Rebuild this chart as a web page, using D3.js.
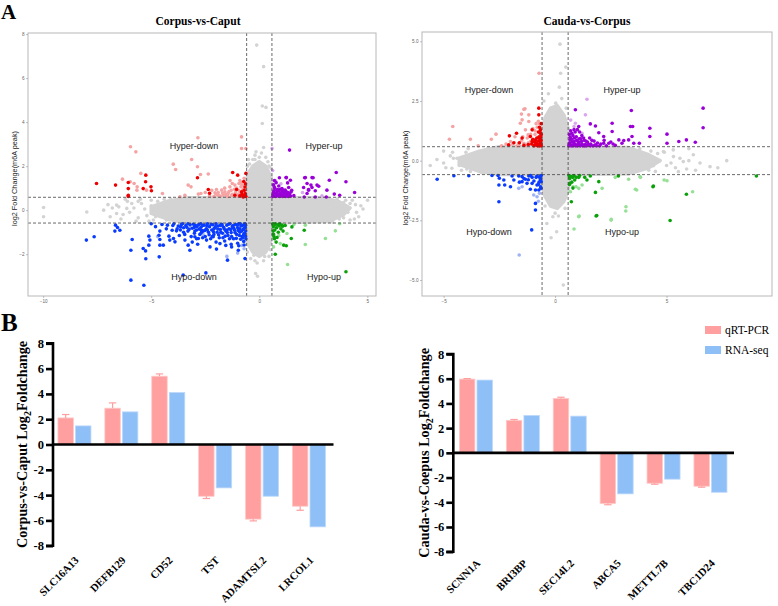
<!DOCTYPE html>
<html><head><meta charset="utf-8">
<script src="https://cdn.jsdelivr.net/npm/d3@7"></script>
<style>body{margin:0;background:#fff}</style></head>
<body><svg id="c" width="778" height="606"></svg>
<script>
// ---------------- DATA ----------------
const threshold = 0.585;
// Corpus-vs-Caput (left scatter)
const lTicksX = [-10, -5, 0, 5];
const lTicksY = [-2, 0, 2, 4, 6, 8];
const lCloud = [[-5.0,0.15],[-4.2,0.42],[-3.3,0.56],[-0.62,0.58],[-0.62,1.2],[-0.5,1.7],[-0.3,2.0],[0,2.2],[0.3,2.0],[0.5,1.6],[0.6,1.2],[0.6,0.58],[3.0,0.56],[3.7,0.38],[4.2,0.1],[3.9,-0.2],[3.2,-0.52],[0.6,-0.58],[0.6,-1.0],[0.5,-1.5],[0.3,-1.9],[0,-2.1],[-0.3,-1.9],[-0.55,-1.5],[-0.62,-1.0],[-0.62,-0.58],[-3.3,-0.56],[-4.2,-0.42],[-5.0,-0.15]];
const lGray = [[-0.12,7.5],[0.2,6.52],[0.14,4.73],[0.31,4.67],[0.14,3.94],[-0.15,2.65],[0.2,2.85],[-0.2,2.3],[-9.98,0.12],[-9.98,-0.3],[-7.98,-0.08],[-6.6,0.23],[-6.13,0.08],[5.01,0.45],[3.29,0.38],[3.62,0.2],[3.75,-0.15],[-0.17,-2.88],[-0.08,-3.0],[0.2,-1.97],[-0.2,-2.3],[-6.8,0.1],[-6.3,-0.2],[-5.9,0.3],[-5.6,-0.35],[-5.3,0.05],[-5.0,0.45],[-4.8,-0.3],[-4.6,0.2],[-4.3,-0.45],[-4.1,0.5],[-3.9,-0.1],[-3.7,0.55],[-6.1,0.4],[-5.5,0.5],[-5.1,-0.5],[-4.0,0.35],[-3.8,-0.5],[3.6,0.5],[3.9,-0.35],[4.2,0.3],[4.5,-0.1],[4.7,0.2],[3.4,-0.55],[4.0,0.45],[4.4,-0.4],[3.2,0.55],[-0.5,2.3],[0.4,2.2],[-0.2,2.5],[0.1,2.6],[0.3,2.4],[-0.4,-2.2],[0.45,-2.1],[-0.1,-2.4],[0.2,-2.3],[0.5,-1.8],[-0.55,-1.9],[0.55,1.9],[-0.55,2.0],[-7.2,0.0],[-7.0,0.25],[-6.9,-0.3],[-6.5,0.15],[-6.4,-0.4],[-6.2,0.5],[-6.0,-0.1],[-5.8,0.1],[-5.7,-0.5],[-5.45,0.3],[-5.2,-0.25],[-5.0,0.2],[-4.9,-0.45],[-4.7,0.4],[-4.55,-0.1],[-4.4,0.5],[-4.2,0.15],[-4.0,-0.3],[-3.8,0.2],[-3.6,-0.35],[-3.6,0.45],[-4.75,0.05],[-5.6,0.4],[-6.6,-0.15],[3.1,-0.5],[3.3,0.4],[3.5,0.1],[3.7,-0.4],[3.9,0.35],[4.1,-0.1],[4.3,0.45],[4.6,-0.3],[4.8,0.05],[3.8,-0.05],[4.2,-0.45],[4.45,0.25],[-0.55,1.4],[0.55,1.5],[-0.45,2.1],[0.45,2.0],[0.0,2.4],[-0.3,2.3],[0.25,-2.1],[-0.25,-2.05],[0.52,-1.4],[-0.58,-1.3]];
const lRed = [[-7.53,1.21],[-6.65,1.14],[-6.06,1.26],[-6.06,0.98],[-6.06,0.68],[-6.06,0.62],[-5.25,1.59],[-5.26,1.29],[-5.37,0.98],[-5.01,1.06],[-4.99,0.88],[-2.86,1.47],[-2.36,0.94],[-2.3,0.77],[-1.23,1.71],[-1.0,1.59],[-0.62,1.67],[-1.05,0.94],[-0.82,0.83],[-0.66,0.68],[-0.74,0.6],[-1.13,0.68],[-0.62,0.62],[-0.65,0.75],[-0.68,0.66],[-0.7,0.9],[-0.75,0.62],[-0.8,0.72],[-0.66,1.05],[-0.64,1.2],[-0.9,0.65],[-0.72,1.3]];
const lRedLight = [[-5.96,2.88],[-5.71,2.65],[-3.98,2.09],[-3.13,2.3],[-3.87,1.85],[-2.86,1.97],[-2.72,1.62],[-2.36,1.64],[-5.48,1.67],[-6.33,1.41],[-5.79,1.21],[-5.65,1.06],[-5.22,0.91],[-4.48,0.76],[-3.29,1.14],[-3.16,1.06],[-2.82,0.73],[-2.7,0.76],[-2.05,0.79],[-1.98,0.94],[-1.74,0.91],[-1.59,0.83],[-1.44,0.76],[-1.36,1.06],[-1.25,1.21],[-1.13,1.14],[-0.94,1.21],[-0.85,1.06],[-1.44,0.61],[-1.28,0.68],[-1.67,0.68],[-1.9,0.68],[-3.67,0.61],[-3.44,0.68],[-0.82,3.33],[-0.62,2.8],[-0.82,2.8],[-2.84,3.29],[-5.97,1.29],[-5.66,0.91],[-0.85,0.62],[-1.0,0.7],[-1.1,0.8],[-1.2,0.65],[-0.95,0.9],[-1.3,0.9],[-1.5,0.65],[-1.6,1.0],[-1.9,0.8],[-2.1,0.62],[-2.2,0.9],[-0.8,1.15],[-0.9,1.35],[-1.05,1.0],[-0.7,1.45],[-0.7,0.75],[-0.75,0.95],[-0.8,0.65],[-0.9,0.78],[-1.0,0.62],[-1.15,0.95],[-1.25,0.72],[-1.4,0.85],[-1.55,0.72],[-1.7,0.78],[-1.8,0.64],[-2.0,0.72],[-2.3,0.66],[-2.5,0.8],[-0.65,0.9],[-0.68,1.1],[-0.85,1.25],[-1.35,1.35]];
const lPurple = [[1.4,2.73],[0.93,1.47],[1.25,1.48],[1.44,1.36],[1.31,1.24],[0.69,1.06],[0.85,0.94],[1.05,0.98],[1.2,0.91],[1.36,1.03],[0.97,0.76],[1.13,0.68],[0.69,0.68],[0.82,0.79],[1.28,0.79],[1.47,0.83],[2.13,1.48],[2.44,1.48],[2.21,1.21],[2.05,1.03],[2.28,0.94],[2.44,1.03],[2.59,0.88],[2.21,0.76],[2.67,1.14],[3.13,0.91],[3.24,1.36],[3.56,1.71],[4.01,1.29],[4.41,0.8],[3.47,0.73],[3.72,0.68],[2.75,1.09],[2.49,1.47],[2.1,1.47],[2.39,1.14],[2.28,0.91],[2.08,0.6],[2.59,0.6],[3.1,0.6],[1.24,1.48],[0.62,0.62],[0.65,0.8],[0.7,0.68],[0.72,1.0],[0.75,0.62],[0.8,0.75],[0.85,0.66],[0.9,0.88],[0.95,0.62],[1.0,0.7],[1.05,0.85],[1.1,0.65],[1.15,0.78],[1.2,0.62],[1.3,0.7],[1.35,0.62],[1.4,0.74],[0.66,1.15],[0.78,1.25],[0.9,1.1],[0.64,0.72],[0.68,0.88],[0.74,0.78],[0.78,0.64],[0.82,0.9],[0.88,0.72],[0.92,0.64],[0.98,0.95],[1.02,0.78],[1.08,0.62],[1.12,0.9],[1.18,0.7],[1.24,0.85],[1.28,0.64],[1.33,0.8],[1.38,0.68],[1.45,0.64],[1.5,0.9],[1.6,0.66],[0.7,1.35]];
const lPurpleLight = [[0.59,2.8],[0.62,1.8],[0.75,1.35],[1.0,1.2],[0.65,0.9],[2.0,0.8],[2.9,0.65]];
const lBlue = [[-8.0,-1.36],[-7.64,-1.21],[-6.65,-0.68],[-6.56,-0.79],[-6.45,-0.91],[-6.68,-0.95],[-5.88,-1.33],[-5.94,-1.82],[-5.37,-1.74],[-5.26,-1.85],[-5.25,-2.21],[-5.11,-1.18],[-5.06,-1.36],[-5.11,-1.59],[-4.64,-1.14],[-4.6,-1.33],[-4.6,-1.59],[-4.44,-1.59],[-4.63,-2.12],[-4.18,-1.18],[-4.14,-1.36],[-4.03,-0.91],[-3.97,-1.29],[-3.9,-1.44],[-4.25,-0.68],[-3.83,-0.94],[-3.64,-0.76],[-3.44,-1.36],[-3.29,-1.59],[-3.21,-1.82],[-2.98,-1.21],[-2.82,-1.29],[-2.67,-0.91],[-2.44,-1.36],[-2.28,-1.67],[-2.13,-1.21],[-1.98,-1.77],[-1.82,-1.52],[-1.47,-2.27],[-1.28,-1.67],[-0.97,-1.82],[-0.66,-2.2],[-5.94,-3.18],[-5.34,-3.41],[-3.52,-2.95],[-2.47,-2.85],[-3.6,-0.65],[-3.5,-0.8],[-3.4,-0.7],[-3.3,-0.95],[-3.2,-0.66],[-3.1,-0.82],[-3.0,-1.05],[-2.95,-0.7],[-2.9,-0.9],[-2.8,-0.65],[-2.75,-1.1],[-2.7,-0.78],[-2.6,-0.95],[-2.55,-0.68],[-2.5,-1.2],[-2.45,-0.85],[-2.4,-0.62],[-2.35,-1.0],[-2.3,-0.75],[-2.25,-1.3],[-2.2,-0.9],[-2.15,-0.66],[-2.1,-1.1],[-2.05,-0.8],[-2.0,-0.62],[-1.95,-1.0],[-1.9,-0.72],[-1.85,-1.25],[-1.8,-0.88],[-1.75,-0.64],[-1.7,-1.05],[-1.65,-0.78],[-1.6,-1.4],[-1.55,-0.95],[-1.5,-0.68],[-1.45,-1.15],[-1.4,-0.85],[-1.35,-0.62],[-1.3,-1.02],[-1.25,-0.75],[-1.2,-1.3],[-1.15,-0.9],[-1.1,-0.65],[-1.05,-1.1],[-1.0,-0.8],[-0.95,-0.62],[-0.9,-1.0],[-0.85,-0.72],[-0.8,-1.2],[-0.75,-0.88],[-0.7,-0.64],[-0.68,-1.05],[-0.65,-0.78],[-0.63,-0.95],[-0.62,-1.3],[-0.66,-0.62],[-0.9,-0.85],[-1.2,-0.7],[-1.5,-0.9],[-1.8,-0.7],[-2.1,-0.85],[-2.4,-0.9],[-2.7,-0.62],[-3.0,-0.78],[-3.3,-0.62],[-0.72,-1.42],[-1.0,-1.5],[-1.3,-1.55],[-2.9,-1.3],[-3.5,-1.0],[-4.0,-0.7],[-4.5,-0.65],[-4.8,-0.75],[-5.0,-0.62],[-3.8,-0.85],[-3.75,-0.72],[-3.65,-0.9],[-3.55,-0.62],[-3.45,-1.1],[-3.35,-0.78],[-3.25,-0.88],[-3.15,-1.2],[-3.05,-0.64],[-2.98,-0.95],[-2.88,-0.74],[-2.78,-0.86],[-2.68,-1.02],[-2.62,-0.7],[-2.52,-0.92],[-2.42,-0.72],[-2.32,-1.12],[-2.22,-0.64],[-2.12,-0.98],[-2.02,-0.74],[-1.92,-0.86],[-1.88,-1.12],[-1.78,-1.0],[-1.72,-0.68],[-1.62,-0.86],[-1.58,-1.18],[-1.48,-1.02],[-1.42,-0.64],[-1.32,-0.88],[-1.28,-1.2],[-1.18,-0.82],[-1.12,-1.02],[-1.02,-0.68],[-0.98,-0.92],[-0.92,-1.15],[-0.88,-0.62],[-0.82,-0.96],[-0.78,-0.7],[-0.72,-1.1],[-0.7,-0.82],[-0.64,-0.68],[-0.64,-1.18],[-0.76,-1.25],[-0.86,-1.32],[-1.06,-1.28],[-1.38,-1.3],[-1.68,-1.25],[-2.18,-1.2],[-2.62,-1.25],[-3.1,-1.45],[-3.7,-1.15],[-4.3,-0.85],[-4.6,-0.95],[-3.95,-0.62],[-2.85,-1.55],[-2.0,-1.45],[-1.55,-1.6],[-0.95,-1.62],[-0.7,-1.58]];
const lBlueLight = [[-1.5,-2.1],[-1.0,-1.95],[-0.8,-1.6],[-3.2,-0.8],[-4.7,-1.2],[-0.7,-1.75],[-1.15,-1.3],[-2.6,-1.1]];
const lGreen = [[1.48,-1.29],[1.13,-1.59],[1.25,-1.62],[2.08,-0.91],[0.74,-2.0],[4.01,-2.8],[1.08,-0.73],[1.51,-0.76],[0.82,-1.24],[0.62,-0.62],[0.65,-0.75],[0.7,-0.68],[0.72,-0.9],[0.75,-0.62],[0.8,-0.8],[0.85,-0.66],[0.88,-1.0],[0.92,-0.72],[0.95,-0.62],[1.0,-0.85],[0.66,-1.1],[0.7,-1.3],[0.78,-1.45],[1.05,-0.68],[1.1,-0.95],[1.2,-0.7],[0.64,-0.95],[0.68,-1.2]];
const lGreenLight = [[2.13,-0.68],[3.06,-1.29],[3.52,-0.94],[3.72,-0.62],[2.13,-1.56],[1.31,-2.47],[0.97,-1.52],[0.66,-1.67],[1.28,-1.06],[1.6,-0.65],[0.9,-1.15]];

// Cauda-vs-Corpus (right scatter)
const rTicksX = [-5, 0, 5];
const rTicksY = [-5, -2.5, 0, 2.5, 5];
const rCloud = [[-4.3,0.1],[-3.4,0.4],[-2.5,0.58],[-0.6,0.58],[-0.6,1.2],[-0.45,1.8],[-0.2,2.2],[0.1,2.3],[0.4,1.9],[0.6,1.3],[0.6,0.58],[3.3,0.55],[4.2,0.25],[4.7,0],[4.2,-0.3],[3.3,-0.55],[0.6,-0.58],[0.6,-1.2],[0.4,-1.7],[0.1,-2.0],[-0.2,-1.9],[-0.45,-1.5],[-0.6,-1.0],[-0.6,-0.58],[-2.5,-0.58],[-3.4,-0.45],[-4.3,-0.15]];
const rGray = [[0.22,4.88],[0.25,3.66],[0.48,3.92],[0.19,3.08],[0.03,2.41],[0.37,-5.21],[-0.18,-3.23],[0.07,-2.98],[-0.37,-2.63],[-0.1,-2.35],[0.15,-2.32],[6.95,-0.25],[5.75,-0.04],[5.31,0.17],[4.41,-0.21],[4.86,0.38],[5.53,-0.46],[-4.56,0.1],[-4.63,-0.32],[-3.96,0.2],[-3.96,-0.35],[-3.44,0.31],[-5.3,0.05],[-4.9,-0.3],[-4.6,0.35],[-4.2,-0.4],[-3.9,0.5],[-3.7,-0.1],[-5.0,0.4],[-4.4,0.1],[-3.3,-0.5],[-3.0,0.55],[3.8,0.5],[4.2,-0.4],[4.6,0.3],[5.0,-0.2],[5.3,0.45],[5.6,0.1],[5.9,-0.35],[6.2,0.25],[6.5,-0.1],[7.3,-0.3],[7.7,0.0],[4.0,0.1],[4.4,-0.1],[3.5,-0.5],[-0.5,2.5],[0.3,2.6],[-0.3,2.8],[0.5,2.2],[-0.45,-1.9],[0.45,-2.0],[0.0,-2.2],[-5.6,-0.2],[6.0,0.5],[-5.0,-0.1],[-4.7,0.2],[-4.3,-0.2],[-4.0,0.35],[-3.8,-0.45],[-3.5,0.2],[-3.2,-0.3],[-2.8,0.52],[-2.9,-0.5],[3.2,0.5],[3.6,0.3],[3.9,-0.3],[4.3,0.4],[4.7,0.0],[5.2,-0.1],[4.9,0.35],[4.5,-0.45],[5.4,-0.3],[6.0,0.0],[6.3,-0.4]];
const rRed = [[-0.73,2.2],[-0.73,1.92],[-1.73,1.15],[-2.05,1.04],[-1.48,0.95],[-1.11,1.01],[-1.03,0.8],[-0.88,0.87],[-0.73,0.95],[-0.66,0.73],[-0.81,0.66],[-0.66,1.15],[-1.03,1.29],[-2.08,0.66],[-1.85,0.75],[-0.62,0.62],[-0.65,0.8],[-0.7,0.68],[-0.72,1.0],[-0.78,0.62],[-0.85,0.75],[-0.62,1.1],[-0.66,1.3],[-0.9,0.66],[-1.0,0.9],[-0.75,1.2],[-0.95,0.62],[-1.2,0.68],[-1.4,0.64],[-1.6,0.75],[-0.63,0.7],[-0.67,0.92],[-0.7,0.62],[-0.74,0.82],[-0.8,0.7],[-0.64,1.0],[-0.68,1.2],[-0.82,0.95],[-0.92,0.78],[-1.05,0.7],[-0.63,0.85],[-0.7,1.4],[-0.62,1.55]];
const rRedLight = [[-4.59,1.43],[-4.74,0.9],[-3.8,0.9],[-3.45,0.62],[-2.86,0.9],[-2.65,1.11],[-1.51,1.95],[-1.4,2.15],[-1.18,1.92],[-1.56,1.57],[-1.48,1.71],[-1.18,1.64],[-1.33,1.29],[-1.21,1.08],[-1.63,0.73],[-1.4,0.73],[-2.0,0.8],[-0.72,3.66],[-1.35,2.17],[-0.8,1.4],[-0.9,1.1],[-1.1,0.8],[-1.25,0.95],[-1.3,0.62],[-1.5,0.85],[-1.7,0.62],[-1.8,1.0],[-2.2,0.7],[-2.4,0.62],[-0.7,1.55],[-1.0,1.35],[-0.9,1.25],[-1.1,1.1],[-1.2,0.75],[-1.35,0.68],[-1.45,1.0],[-1.6,0.62],[-1.9,0.7],[-0.75,1.65],[-0.85,1.55]];
const rPurple = [[6.64,2.2],[6.64,1.38],[3.42,2.1],[5.02,1.11],[5.55,0.8],[5.89,0.87],[6.29,0.77],[5.02,0.73],[4.25,1.36],[4.25,1.01],[3.38,1.43],[3.48,1.43],[2.56,1.57],[2.56,1.22],[1.58,1.54],[1.81,1.45],[1.96,1.17],[2.18,1.01],[2.18,0.73],[2.41,0.73],[2.6,0.7],[2.86,0.87],[3.08,0.84],[3.3,0.87],[3.45,1.01],[3.53,0.73],[3.78,0.73],[3.0,0.73],[0.91,2.13],[1.06,1.43],[0.62,0.62],[0.66,0.75],[0.7,0.66],[0.75,0.9],[0.8,0.62],[0.85,0.8],[0.9,0.7],[0.95,1.0],[1.0,0.62],[1.05,0.78],[1.1,0.66],[1.15,0.92],[1.2,0.7],[1.25,0.62],[1.3,0.85],[1.35,0.68],[1.4,0.62],[1.45,0.78],[1.5,0.66],[1.55,0.95],[1.6,0.7],[1.7,0.62],[1.75,0.82],[1.8,0.66],[1.9,0.74],[2.0,0.62],[0.64,1.1],[0.7,1.25],[0.8,1.05],[0.9,1.2],[1.0,1.3],[0.68,0.98],[1.2,1.05],[2.2,0.85],[2.3,0.62],[2.5,0.78],[2.7,0.64],[0.63,0.7],[0.67,0.88],[0.72,0.62],[0.77,0.78],[0.83,0.68],[0.87,0.95],[0.93,0.62],[0.97,0.85],[1.03,0.7],[1.08,0.92],[1.13,0.62],[1.18,0.8],[1.23,0.66],[1.28,0.95],[1.33,0.62],[1.38,0.82],[1.48,0.7],[1.58,0.62],[1.65,0.85],[1.85,0.62],[0.75,1.15],[0.85,1.3],[1.1,1.2],[2.05,0.7]];
const rPurpleLight = [[1.36,1.92],[1.43,2.57],[1.21,1.15],[0.91,1.57],[0.85,1.43],[0.7,1.7],[1.1,0.9]];
const rBlue = [[-5.29,-0.78],[-4.54,-0.63],[-3.87,-0.63],[-2.83,-0.62],[-2.56,-0.62],[-2.5,-0.74],[-2.3,-0.81],[-2.52,-1.02],[-2.26,-1.02],[-1.93,-0.64],[-1.85,-0.81],[-2.0,-1.09],[-1.63,-0.64],[-1.48,-0.67],[-1.33,-0.78],[-1.18,-0.64],[-1.03,-0.7],[-0.81,-0.64],[-0.66,-0.74],[-0.62,-0.88],[-1.48,-0.88],[-1.26,-0.95],[-1.03,-0.95],[-0.81,-1.02],[-1.11,-1.2],[-0.88,-1.23],[-0.73,-1.23],[-0.63,-1.16],[-2.52,-1.72],[-0.88,-1.79],[-0.88,-2.07],[-1.05,-2.9],[-0.62,-0.62],[-0.66,-0.8],[-0.7,-0.68],[-0.75,-1.0],[-0.85,-0.7],[-0.95,-0.85],[-1.1,-0.62],[-1.2,-0.8],[-1.4,-0.75],[-1.6,-0.9],[-0.65,-1.1],[-0.72,-0.9]];
const rBlueLight = [[-1.63,-1.16],[-1.48,-1.09],[-0.96,-1.44],[-0.81,-1.51],[-0.7,-1.37],[-1.61,-3.95],[-0.75,-1.7]];
const rGreen = [[0.66,-0.67],[0.79,-0.7],[0.88,-0.81],[1.06,-0.7],[1.33,-0.7],[1.43,-0.81],[1.58,-0.64],[1.96,-0.88],[1.81,-1.33],[1.84,-2.32],[4.39,-1.09],[5.89,-1.41],[9.03,-0.64],[0.73,-1.72],[0.66,-0.95],[1.87,-2.3],[5.16,-2.51],[2.84,-0.64],[4.41,-1.06],[0.62,-0.62],[0.66,-0.75],[0.7,-0.66],[0.75,-0.9],[0.85,-0.62],[0.95,-0.7],[1.1,-0.62],[0.65,-1.0],[0.8,-1.15]];
const rGreenLight = [[0.94,-1.09],[1.06,-1.16],[1.21,-1.02],[2.11,-1.16],[2.7,-0.7],[3.3,-0.78],[3.83,-0.7],[5.02,-0.84],[3.6,-1.2],[3.18,-1.93],[2.52,-2.46],[1.06,-2.35],[6.17,-1.3],[0.69,-1.3],[0.81,-1.09],[0.85,-2.86],[1.08,-2.32],[2.51,-2.49],[3.17,-2.11],[3.66,-1.23],[4.89,-0.81],[3.81,-0.67]];

// Bar charts (B)
const series = ["qRT-PCR", "RNA-seq"];
const barTicks = [-8, -6, -4, -2, 0, 2, 4, 6, 8];
const genesL = ["SLC16A13", "DEFB129", "CD52", "TST", "ADAMTSL2", "LRCOL1"];
const qpcrL = [2.1, 2.87, 5.4, -4.09, -5.9, -4.88];
const qpcrErrL = [0.27, 0.42, 0.18, 0.18, 0.14, 0.32];
const rnaL = [1.47, 2.58, 4.11, -3.43, -4.09, -6.51];
const genesR = ["SCNN1A", "BRI3BP", "SEC14L2", "ABCA5", "METTL7B", "TBC1D24"];
const qpcrR = [5.97, 2.62, 4.4, -4.1, -2.46, -2.7];
const qpcrErrR = [0.04, 0.08, 0.1, 0.1, 0.08, 0.08];
const rnaR = [5.89, 3.03, 2.97, -3.32, -2.13, -3.19];

// ---------------- DRAW ----------------
const svg = d3.select("#c");
const SERIF = "'Liberation Serif','Times New Roman',serif";
const SANS = "'Liberation Sans',Arial,sans-serif";
const C = {gray:"#d3d3d3", red:"#ee0000", redL:"#f5a3a3", purple:"#9a00d8", purpleL:"#d9a6f0",
           blue:"#0a3cff", blueL:"#9fb2f6", green:"#0ba10b", greenL:"#95e095"};

svg.append("text").attr("x", 1).attr("y", 19).attr("font-family", SERIF).attr("font-weight", "bold")
  .attr("font-size", 21).text("A");
svg.append("text").attr("x", 1).attr("y", 331).attr("font-family", SERIF).attr("font-weight", "bold")
  .attr("font-size", 25).text("B");

function scatter(o) {
  const g = svg.append("g");
  const x = d3.scaleLinear().domain(o.xd).range([o.x0, o.x1]);
  const y = d3.scaleLinear().domain(o.yd).range([o.y1, o.y0]);
  g.append("text").attr("x", (o.x0 + o.x1) / 2 + o.titleDx).attr("y", 25).attr("text-anchor", "middle")
    .attr("font-family", SERIF).attr("font-weight", "bold").attr("font-size", 11.5).text(o.title);
  const clip = "clip" + o.id;
  g.append("clipPath").attr("id", clip).append("rect").attr("x", o.x0).attr("y", o.y0)
    .attr("width", o.x1 - o.x0).attr("height", o.y1 - o.y0);
  const p = g.append("g").attr("clip-path", `url(#${clip})`);
  p.append("path").datum(o.cloud).attr("d", d3.line().x(d => x(d[0])).y(d => y(d[1])).curve(d3.curveLinearClosed))
    .attr("fill", C.gray).attr("stroke", C.gray).attr("stroke-width", 3.5).attr("stroke-linejoin", "round");
  const layers = [[o.gray, C.gray], [o.redL, C.redL], [o.purpleL, C.purpleL], [o.blueL, C.blueL], [o.greenL, C.greenL],
                  [o.red, C.red], [o.purple, C.purple], [o.blue, C.blue], [o.green, C.green]];
  layers.forEach(([data, col]) => {
    p.append("g").selectAll("circle").data(data).join("circle")
      .attr("cx", d => x(d[0])).attr("cy", d => y(d[1])).attr("r", 1.8).attr("fill", col);
  });
  const dash = "3,2";
  [-threshold, threshold].forEach(t => {
    g.append("line").attr("x1", x(t)).attr("x2", x(t)).attr("y1", o.y0).attr("y2", o.y1)
      .attr("stroke", "#444").attr("stroke-width", 0.8).attr("stroke-dasharray", dash);
    g.append("line").attr("x1", o.x0).attr("x2", o.x1).attr("y1", y(t)).attr("y2", y(t))
      .attr("stroke", "#444").attr("stroke-width", 0.8).attr("stroke-dasharray", dash);
  });
  g.append("rect").attr("x", o.x0).attr("y", o.y0).attr("width", o.x1 - o.x0).attr("height", o.y1 - o.y0)
    .attr("fill", "none").attr("stroke", "#b8b8b8").attr("stroke-width", 1);
  const ax = g.append("g").attr("transform", `translate(0,${o.y1})`)
    .call(d3.axisBottom(x).tickValues(o.tx).tickSize(2).tickPadding(1.5).tickFormat(d3.format("d")));
  const ay = g.append("g").attr("transform", `translate(${o.x0},0)`)
    .call(d3.axisLeft(y).tickValues(o.ty).tickSize(2).tickPadding(1.5).tickFormat(o.fmt));
  [ax, ay].forEach(a => {
    a.select(".domain").remove();
    a.selectAll("line").attr("stroke", "#999").attr("stroke-width", 0.6);
    a.selectAll("text").attr("font-family", SANS).attr("font-size", 4.6).attr("fill", "#666");
  });
  g.append("text").attr("transform", `translate(${o.ylx},${(o.y0 + o.y1) / 2 + 14}) rotate(-90)`)
    .attr("text-anchor", "middle").attr("font-family", SANS).attr("font-size", 7.3).attr("fill", "#222")
    .text("log2 Fold Change(m6A peak)");
  o.labels.forEach(([t, cx, cy]) => {
    g.append("text").attr("x", cx).attr("y", cy).attr("text-anchor", "middle").attr("dominant-baseline", "central")
      .attr("font-family", SANS).attr("font-size", 9).attr("fill", "#222").text(t);
  });
}

scatter({id: "L", title: "Corpus-vs-Caput", titleDx: -4, x0: 28, x1: 376, y0: 33, y1: 296,
  xd: [-10.7, 5.4], yd: [-3.9, 8.05], tx: lTicksX, ty: lTicksY, fmt: d3.format("d"), ylx: 17,
  cloud: lCloud, gray: lGray, red: lRed, redL: lRedLight, purple: lPurple, purpleL: lPurpleLight,
  blue: lBlue, blueL: lBlueLight, green: lGreen, greenL: lGreenLight,
  labels: [["Hyper-down", 194, 146], ["Hyper-up", 324, 146], ["Hypo-down", 194, 277], ["Hypo-up", 324, 277]]});

scatter({id: "R", title: "Cauda-vs-Corpus", titleDx: -10, x0: 422, x1: 772, y0: 32, y1: 296,
  xd: [-5.97, 9.73], yd: [-5.67, 5.39], tx: rTicksX, ty: rTicksY, fmt: d3.format(".1f"), ylx: 408,
  cloud: rCloud, gray: rGray, red: rRed, redL: rRedLight, purple: rPurple, purpleL: rPurpleLight,
  blue: rBlue, blueL: rBlueLight, green: rGreen, greenL: rGreenLight,
  labels: [["Hyper-down", 489, 90], ["Hyper-up", 622, 90], ["Hypo-down", 489, 232], ["Hypo-up", 622, 232]]});

const PINK = "#ff9f9f", PINK_E = "#ffc9c9", BLUE = "#8fbff7", BLUE_E = "#bcd8fb";

function bars(o) {
  const g = svg.append("g");
  const x0 = d3.scaleBand().domain(o.genes).range(o.bandRange);
  const x1 = d3.scaleBand().domain(series).range([-16.5, 16.5]).paddingInner(0.12);
  const y = d3.scaleLinear().domain([-8, 8]).range([o.yb, o.yt]);
  const rows = o.genes.map((gname, i) => ({g: gname, v: [o.q[i], o.r[i]], e: o.e[i]}));
  rows.forEach(r => {
    const cx = x0(r.g) + x0.bandwidth() / 2;
    series.forEach((s, k) => {
      const v = r.v[k];
      g.append("rect").attr("x", cx + x1(s)).attr("width", x1.bandwidth())
        .attr("y", y(Math.max(0, v))).attr("height", Math.abs(y(v) - y(0)))
        .attr("fill", k ? BLUE : PINK).attr("stroke", k ? BLUE_E : PINK_E).attr("stroke-width", 0.8);
    });
    const bx = cx + x1(series[0]) + x1.bandwidth() / 2;
    const v = r.v[0], ev = v >= 0 ? v + r.e : v - r.e;
    g.append("line").attr("x1", bx).attr("x2", bx).attr("y1", y(v)).attr("y2", y(ev))
      .attr("stroke", PINK).attr("stroke-width", 1.2);
    g.append("line").attr("x1", bx - 3.7).attr("x2", bx + 3.7).attr("y1", y(ev)).attr("y2", y(ev))
      .attr("stroke", PINK).attr("stroke-width", 1.2);
  });
  g.append("line").attr("x1", o.ax).attr("x2", o.zeroEnd).attr("y1", y(0)).attr("y2", y(0))
    .attr("stroke", "#000").attr("stroke-width", 2.6);
  const ay = g.append("g").attr("transform", `translate(${o.ax},0)`)
    .call(d3.axisLeft(y).tickValues(barTicks).tickSize(7).tickPadding(2).tickFormat(d => String(d)));
  ay.select(".domain").attr("stroke-width", 2.6).attr("d", `M-7,${y(8)}H0V${y(-8)}H-7`);
  ay.selectAll(".tick line").attr("stroke-width", 2.6);
  ay.selectAll("text").attr("font-family", SERIF).attr("font-weight", "bold").attr("font-size", 12.5).attr("fill", "#000");
  o.genes.forEach(gname => {
    const cx = x0(gname) + x0.bandwidth() / 2;
    g.append("text").attr("transform", `translate(${cx + 5},${o.labelY}) rotate(-45)`)
      .attr("text-anchor", "end").attr("font-family", SERIF).attr("font-weight", "bold").attr("font-size", 10.8)
      .text(gname);
  });
  const t = g.append("text").attr("transform", `translate(${o.ylx},${(o.yt + o.yb) / 2}) rotate(-90)`)
    .attr("text-anchor", "middle").attr("font-family", SERIF).attr("font-weight", "bold").attr("font-size", 14.2);
  t.append("tspan").text(o.ylabel + " Log");
  t.append("tspan").attr("font-size", 10).attr("dy", 4).text("2");
  t.append("tspan").attr("dy", -4).text("Foldchange");
}

bars({genes: genesL, q: qpcrL, e: qpcrErrL, r: rnaL, bandRange: [51, 332.4], ax: 53, zeroEnd: 333.5,
  yt: 343.3, yb: 545.7, labelY: 561, ylx: 27, ylabel: "Corpus-vs-Caput"});
bars({genes: genesR, q: qpcrR, e: qpcrErrR, r: rnaR, bandRange: [452.5, 733.9], ax: 453.3, zeroEnd: 734,
  yt: 354, yb: 551.7, labelY: 564, ylx: 429, ylabel: "Cauda-vs-Coepus"});

// legend
const leg = svg.append("g");
series.forEach((s, i) => {
  leg.append("rect").attr("x", 705).attr("y", 326 + i * 20).attr("width", 16).attr("height", 8)
    .attr("fill", i ? BLUE : PINK);
  leg.append("text").attr("x", 725).attr("y", 334 + i * 20).attr("font-family", SERIF).attr("font-size", 11.5)
    .text(s);
});
</script></body></html>
